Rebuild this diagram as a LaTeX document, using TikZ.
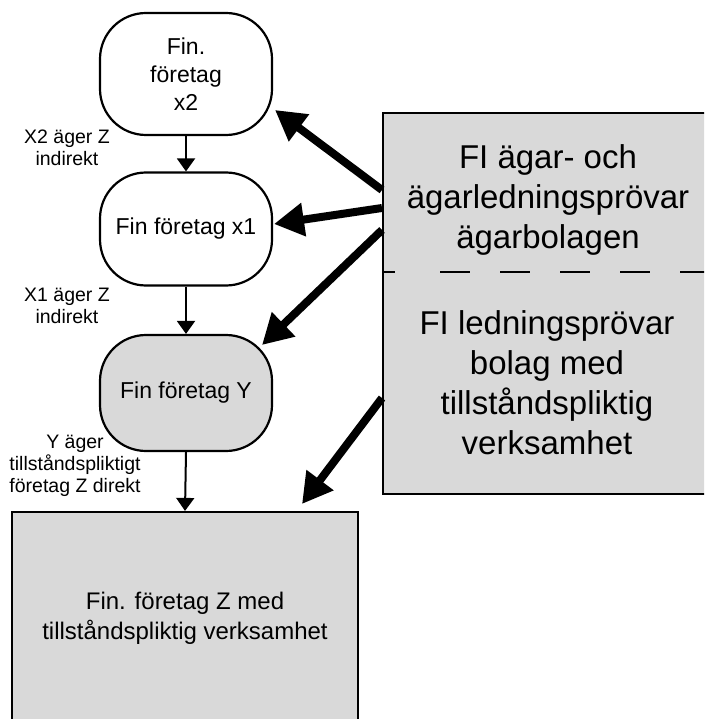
\documentclass[tikz,border=0pt]{standalone}
\usepackage{fontspec}
\setmainfont{Liberation Sans}
\usetikzlibrary{arrows.meta}
\definecolor{boxgray}{HTML}{D9D9D9}
\begin{document}
\begin{tikzpicture}[x=1pt,y=-1pt,
  rnode/.style={draw, line width=2.2pt, rounded corners=46pt, minimum width=172pt,
    align=center, inner sep=0pt, font=\fontsize{23}{28}\selectfont},
  lbl/.style={align=center, inner sep=0pt, font=\fontsize{19.5}{22}\selectfont},
  bigtxt/.style={align=center, inner sep=0pt, font=\fontsize{33}{40}\selectfont},
  thinarrow/.style={line width=2pt, -{Triangle[length=13pt,width=18pt]}},
  thickarrow/.style={line width=8pt, -{Triangle[length=30pt,width=32pt]}}
]
\path[use as bounding box] (0,0) rectangle (704,719);
\begin{scope}
\clip (0,0) rectangle (704,719);

% left column
\node[rnode, minimum height=122pt] (x2) at (186,74) {Fin.\\företag\\x2};
\node[rnode, minimum height=113pt] (x1) at (186,229) {Fin företag x1};
\node[rnode, fill=boxgray, minimum height=116pt] (y) at (186,393) {Fin företag Y};
\node[draw, fill=boxgray, line width=2.2pt, minimum width=346pt, minimum height=212pt,
  align=center, inner sep=0pt, font=\fontsize{24}{30}\selectfont] (z) at (185,618)
  {Fin. företag Z med\\tillståndspliktig verksamhet};

\draw[thinarrow] (x2.south) -- (x1.north);
\draw[thinarrow] (x1.south) -- (y.north);
\draw[thinarrow] (y.south) -- (z.north);

\node[lbl] (l1) at (67,148) {X2 äger Z\\indirekt};
\node[lbl] (l2) at (67,306) {X1 äger Z\\indirekt};
\node[lbl] (l3) at (75,466) {Y äger\\tillståndspliktigt\\företag Z direkt};

% right box (runs past the right edge)
\node[draw, fill=boxgray, line width=2.2pt, minimum width=400pt, minimum height=381pt,
  inner sep=0pt, anchor=north west] (rb) at (382,112) {};
\draw[line width=2pt, dash pattern=on 13pt off 45pt on 30pt off 30pt on 30pt off 30pt on 30pt off 30pt on 30pt off 30pt on 30pt off 30pt]
  (rb.west |- 0,272) coordinate (d1) -- (rb.east |- 0,272) coordinate (d2);
\node[bigtxt] (t1) at (548,200) {FI ägar- och\\ägarledningsprövar\\ägarbolagen};
\node[bigtxt] (t2) at (547,383) {FI ledningsprövar\\bolag med\\tillståndspliktig\\verksamhet};

% thick arrows
\coordinate (s1) at (382,190);
\coordinate (s2) at (382,208);
\coordinate (s3) at (382,230);
\coordinate (s4) at (382,398);
\coordinate (e1) at (275,110);
\coordinate (e2) at (274,224);
\coordinate (e3) at (262,345);
\coordinate (e4) at (302,504);
\draw[thickarrow] (s1) -- (e1);
\draw[thickarrow] (s2) -- (e2);
\draw[thickarrow] (s3) -- (e3);
\draw[thickarrow] (s4) -- (e4);
\end{scope}
\end{tikzpicture}
\end{document}
